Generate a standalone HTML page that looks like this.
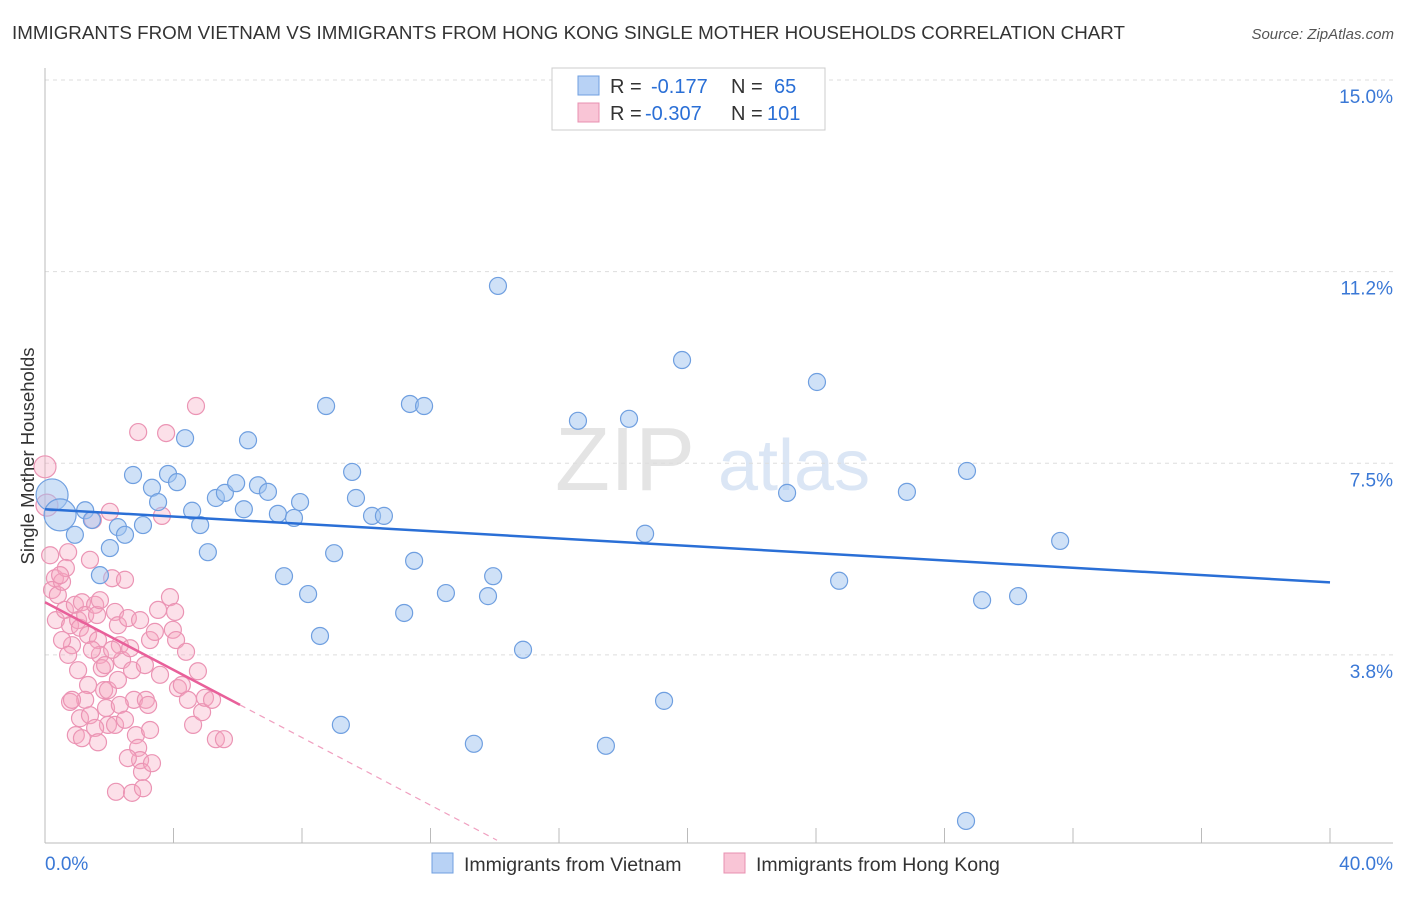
<!DOCTYPE html>
<html><head><meta charset="utf-8"><style>
body{margin:0;background:#fff;font-family:"Liberation Sans",sans-serif;}
svg text{font-family:"Liberation Sans",sans-serif;}
</style></head><body>
<svg id="chart" width="1406" height="892" viewBox="0 0 1406 892">
<text x="12" y="39" font-size="18.6" fill="#333" textLength="1113" lengthAdjust="spacingAndGlyphs">IMMIGRANTS FROM VIETNAM VS IMMIGRANTS FROM HONG KONG SINGLE MOTHER HOUSEHOLDS CORRELATION CHART</text>
<text x="1394" y="39" font-size="15" fill="#555" font-style="italic" text-anchor="end">Source: ZipAtlas.com</text>
<g><text x="555" y="490" font-size="90" fill="#e4e4e4" font-family="Liberation Serif">ZIP</text><text x="718" y="490" font-size="72" fill="#dbe6f5">atlas</text></g>
<g id="grid"></g>
<g id="axes"></g>
<g id="pink"></g>
<g id="blue"></g>
<g id="trends"></g>
<text x="34" y="456" font-size="18.5" fill="#333" text-anchor="middle" transform="rotate(-90 34 456)">Single Mother Households</text>
<g>
<rect x="552" y="68" width="273" height="62" fill="#fff" stroke="#ccc"/>
<rect x="578" y="76" width="21" height="19" fill="#b8d2f5" stroke="#6f9fe0"/>
<rect x="578" y="103" width="21" height="19" fill="#f9c5d6" stroke="#e890b0"/>
<text x="610" y="93" font-size="20" fill="#333">R = <tspan x="651" fill="#2a6fd6">-0.177</tspan><tspan x="731">N =</tspan><tspan x="774" fill="#2a6fd6">65</tspan></text>
<text x="610" y="120" font-size="20" fill="#333">R = <tspan x="645" fill="#2a6fd6">-0.307</tspan><tspan x="731">N =</tspan><tspan x="767" fill="#2a6fd6">101</tspan></text>
</g>
<g>
<rect x="432" y="853" width="21" height="20" fill="#b8d2f5" stroke="#6f9fe0"/>
<text x="464" y="871" font-size="19.5" fill="#333">Immigrants from Vietnam</text>
<rect x="724" y="853" width="21" height="20" fill="#f9c5d6" stroke="#e890b0"/>
<text x="756" y="871" font-size="19.5" fill="#333">Immigrants from Hong Kong</text>
</g>
</svg>
<script>
const yTicks=[3.75,7.5,11.25,15];
const yTickLabels=["3.8%","7.5%","11.2%","15.0%"];
const xTicks=[0,4,8,12,16,20,24,28,32,36,40];
const blueX=[0.22,0.47,1.25,1.46,0.93,2.02,1.71,2.27,2.49,2.74,3.05,3.33,3.52,3.83,4.11,4.36,4.58,4.83,5.07,5.32,5.60,5.95,6.19,6.32,6.63,6.94,7.25,7.44,7.75,7.94,8.19,8.56,8.75,9.00,9.21,9.56,9.68,10.18,10.55,11.18,11.36,11.49,11.80,12.48,13.35,13.79,13.95,14.10,14.88,16.59,17.46,18.18,18.68,19.27,19.83,23.10,24.03,24.72,26.83,28.67,28.70,29.17,30.29,31.60];
const blueY=[6.88,6.49,6.58,6.39,6.10,5.84,5.31,6.25,6.10,7.27,6.29,7.02,6.74,7.29,7.13,7.99,6.57,6.29,5.76,6.82,6.92,7.11,6.60,7.95,7.07,6.94,6.51,5.29,6.43,6.74,4.94,4.12,8.62,5.74,2.38,7.33,6.82,6.47,6.47,4.57,8.66,5.59,8.62,4.96,2.01,4.90,5.29,10.97,3.85,8.33,1.97,8.37,6.12,2.85,9.52,6.92,9.09,5.20,6.94,0.50,7.35,4.82,4.90,5.98];
const pinkX=[0,0.06,0.16,0.31,0.22,0.40,0.53,0.34,0.62,0.72,0.78,0.84,0.65,0.93,1.03,1.09,1.15,1.25,1.34,1.40,1.49,1.56,1.62,1.65,1.71,1.77,1.84,1.90,1.96,1.87,1.34,1.25,1.09,0.96,1.15,0.78,1.40,1.56,1.65,2.02,2.09,2.18,2.27,2.33,2.40,2.49,2.58,2.65,2.71,2.77,2.83,2.90,2.96,3.02,2.58,2.21,2.71,3.05,3.14,3.21,3.27,3.33,3.42,3.52,3.58,3.64,3.77,3.89,3.98,4.08,4.14,4.26,4.45,4.61,4.70,4.76,4.89,4.98,5.20,5.32,5.57,2.33,2.18,1.96,0.47,0.53,0.72,0.84,1.03,1.46,1.71,2.09,2.27,2.49,2.96,3.11,4.05,4.39,2.90,3.27];
const pinkY=[7.43,6.68,5.70,5.25,5.02,4.92,5.18,4.43,4.63,5.76,4.33,3.94,5.45,4.73,4.43,4.28,4.78,4.53,4.14,5.61,6.39,4.73,4.53,4.04,3.75,3.49,3.06,2.71,2.38,3.55,3.16,2.87,2.51,2.18,2.12,2.83,2.57,2.32,2.04,6.55,5.25,4.59,4.33,3.94,3.65,5.22,4.47,3.88,3.45,2.87,2.18,1.93,1.69,1.46,1.73,1.07,1.05,1.14,2.87,2.77,4.04,1.63,4.20,4.63,3.36,6.47,8.09,4.88,4.24,4.04,3.10,3.16,2.87,2.38,8.62,3.43,2.63,2.91,2.87,2.10,2.10,2.77,2.38,3.06,5.31,4.04,3.75,2.87,3.45,3.85,4.82,3.85,3.26,2.48,4.43,3.55,4.59,3.81,8.11,2.28];
const blueTrend=[6.60,-0.0358];
const pinkTrend=[4.78,-0.331];
const pinkSolidEnd=6.07, pinkDashEnd=14.07;
const NS="http://www.w3.org/2000/svg";
const X=v=>45+v/40*1285, Y=v=>80+(15-v)*51.1;
function mk(tag,attrs,parent){const e=document.createElementNS(NS,tag);for(const k in attrs)e.setAttribute(k,attrs[k]);parent.appendChild(e);return e;}
const grid=document.getElementById('grid'),axes=document.getElementById('axes');
yTicks.forEach((t,i)=>{
 const l=mk('line',{x1:45,x2:1393,y1:Y(t),y2:Y(t),stroke:'#ddd','stroke-dasharray':'4,4'},grid);
 
 
 const tx=mk('text',{x:1393,y:Y(t)+23,'font-size':19,fill:'#3a78d6','text-anchor':'end'},axes);
 tx.textContent=yTickLabels[i];
 
 
});
const ax=mk('line',{x1:45,x2:1393,y1:843,y2:843,stroke:'#bbb'},axes);


const ay=mk('line',{x1:45,x2:45,y1:68,y2:843,stroke:'#bbb'},axes);


xTicks.forEach(t=>{
 const l=mk('line',{x1:X(t),x2:X(t),y1:828,y2:843,stroke:'#bbb'},axes);
 
 
});
[[0,'0.0%','start',45],[40,'40.0%','end',1393]].forEach(a=>{
 const tx=mk('text',{x:a[3],y:870,'font-size':19,fill:'#3a78d6','text-anchor':a[2]},axes);
 tx.textContent=a[1];
 
 
});
function dots(xs,ys,g,fill,stroke,name,bigR){
 xs.forEach((x,i)=>{
  const big=(x<0.5&&i<2);
  const c=mk('circle',{cx:X(x),cy:Y(ys[i]),r:big?bigR:8.5,fill:fill,stroke:stroke,'stroke-width':1.2},g);
  
  
 });
}
dots(pinkX,pinkY,document.getElementById('pink'),'rgba(245,165,192,0.35)','#eb94b4','hongkong-point',11);
dots(blueX,blueY,document.getElementById('blue'),'rgba(160,195,240,0.5)','#6f9fe0','vietnam-point',16);
const tr=document.getElementById('trends');
const b=mk('line',{x1:X(0),y1:Y(blueTrend[0]),x2:X(40),y2:Y(blueTrend[0]+blueTrend[1]*40),stroke:'#2a6fd6','stroke-width':2.5},tr);


const p=mk('line',{x1:X(0),y1:Y(pinkTrend[0]),x2:X(pinkSolidEnd),y2:Y(pinkTrend[0]+pinkTrend[1]*pinkSolidEnd),stroke:'#e8609a','stroke-width':2.5},tr);


const pd=mk('line',{x1:X(pinkSolidEnd),y1:Y(pinkTrend[0]+pinkTrend[1]*pinkSolidEnd),x2:X(pinkDashEnd),y2:Y(pinkTrend[0]+pinkTrend[1]*pinkDashEnd),stroke:'#f0a0c0','stroke-width':1.2,'stroke-dasharray':'6,5'},tr);


</script>
</body></html>
